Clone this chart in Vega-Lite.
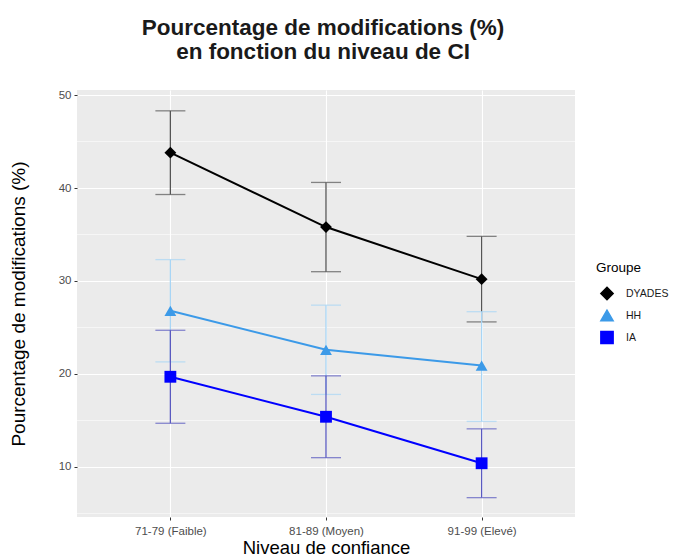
{
  "$schema": "https://vega.github.io/schema/vega-lite/v6.json",
  "width": 498,
  "height": 427,
  "autosize": {"type": "none"},
  "padding": {"left": 77, "top": 90, "right": 101, "bottom": 42},
  "background": "white",
  "view": {"fill": "#EBEBEB", "stroke": null},
  "config": {
    "font": "Liberation Sans",
    "axis": {
      "domain": false,
      "labelFont": "Liberation Sans",
      "labelFontSize": 11.5,
      "labelColor": "#4D4D4D",
      "tickColor": "#333333",
      "tickSize": 3,
      "titleFont": "Liberation Sans",
      "titleFontSize": 18.5,
      "titleFontWeight": "normal",
      "titleColor": "#000000",
      "gridColor": "#FFFFFF",
      "gridWidth": 1.1,
      "gridOpacity": 1
    }
  },
  "title": {
    "text": ["Pourcentage de modifications (%)", "\u00a0\u00a0\u00a0en fonction du niveau de CI"],
    "anchor": "middle",
    "fontSize": 22.5,
    "fontWeight": "bold",
    "font": "Liberation Sans",
    "color": "#1A1A1A",
    "lineHeight": 24,
    "offset": 26,
    "dx": -3
  },
  "datasets": {
    "stats": [
      {"niveau": "71-79 (Faible)", "groupe": "DYADES", "moy": 43.8, "low": 39.3, "high": 48.3},
      {"niveau": "81-89 (Moyen)", "groupe": "DYADES", "moy": 35.8, "low": 31.0, "high": 40.6},
      {"niveau": "91-99 (Elevé)", "groupe": "DYADES", "moy": 30.2, "low": 25.6, "high": 34.8},
      {"niveau": "71-79 (Faible)", "groupe": "HH", "moy": 26.8, "low": 21.3, "high": 32.3},
      {"niveau": "81-89 (Moyen)", "groupe": "HH", "moy": 22.6, "low": 17.8, "high": 27.4},
      {"niveau": "91-99 (Elevé)", "groupe": "HH", "moy": 20.9, "low": 14.9, "high": 26.7},
      {"niveau": "71-79 (Faible)", "groupe": "IA", "moy": 19.7, "low": 14.7, "high": 24.7},
      {"niveau": "81-89 (Moyen)", "groupe": "IA", "moy": 15.4, "low": 11.0, "high": 19.8},
      {"niveau": "91-99 (Elevé)", "groupe": "IA", "moy": 10.4, "low": 6.7, "high": 14.1}
    ],
    "minor": [{"v": 5}, {"v": 15}, {"v": 25}, {"v": 35}, {"v": 45}]
  },
  "layer": [
    {
      "data": {"name": "minor"},
      "mark": {"type": "rule", "color": "#FFFFFF", "strokeWidth": 0.55},
      "encoding": {
        "y": {
          "field": "v", "type": "quantitative",
          "scale": {"domain": [4.62, 50.54], "nice": false, "zero": false},
          "axis": {"title": "Pourcentage de modifications (%)", "values": [10, 20, 30, 40, 50], "grid": true, "labelPadding": 3, "titlePadding": 30, "titleFontSize": 19}
        }
      }
    },
    {
      "data": {"name": "stats"},
      "transform": [{"filter": "datum.groupe === 'DYADES'"}],
      "mark": {"type": "errorbar", "color": "#555555", "thickness": 1.3, "ticks": {"size": 30, "thickness": 1.3}, "rule": {"strokeWidth": 1.3}},
      "encoding": {
        "x": {
          "field": "niveau", "type": "ordinal",
          "sort": ["71-79 (Faible)", "81-89 (Moyen)", "91-99 (Elevé)"],
          "scale": {"type": "point", "padding": 0.6},
          "axis": {"title": "Niveau de confiance", "labelAngle": 0, "grid": true, "labelPadding": 5, "titlePadding": 2}
        },
        "y": {"field": "low", "type": "quantitative", "title": "Pourcentage de modifications (%)"},
        "y2": {"field": "high"}
      }
    },
    {
      "data": {"name": "stats"},
      "transform": [{"filter": "datum.groupe === 'HH'"}],
      "mark": {"type": "errorbar", "color": "#A8D5F5", "thickness": 1.3, "ticks": {"size": 30, "thickness": 1.3}, "rule": {"strokeWidth": 1.3}},
      "encoding": {
        "x": {"field": "niveau", "type": "ordinal", "sort": ["71-79 (Faible)", "81-89 (Moyen)", "91-99 (Elevé)"]},
        "y": {"field": "low", "type": "quantitative", "title": "Pourcentage de modifications (%)"},
        "y2": {"field": "high"}
      }
    },
    {
      "data": {"name": "stats"},
      "transform": [{"filter": "datum.groupe === 'IA'"}],
      "mark": {"type": "errorbar", "color": "#5A5AC0", "thickness": 1.3, "ticks": {"size": 30, "thickness": 1.3}, "rule": {"strokeWidth": 1.3}},
      "encoding": {
        "x": {"field": "niveau", "type": "ordinal", "sort": ["71-79 (Faible)", "81-89 (Moyen)", "91-99 (Elevé)"]},
        "y": {"field": "low", "type": "quantitative", "title": "Pourcentage de modifications (%)"},
        "y2": {"field": "high"}
      }
    },
    {
      "data": {"name": "stats"},
      "mark": {"type": "line", "strokeWidth": 2},
      "encoding": {
        "x": {"field": "niveau", "type": "ordinal", "sort": ["71-79 (Faible)", "81-89 (Moyen)", "91-99 (Elevé)"]},
        "y": {"field": "moy", "type": "quantitative", "title": "Pourcentage de modifications (%)"},
        "color": {
          "field": "groupe", "type": "nominal",
          "scale": {"domain": ["DYADES", "HH", "IA"], "range": ["#000000", "#3C9AE8", "#0000FF"]},
          "title": "Groupe"
        }
      }
    },
    {
      "data": {"name": "stats"},
      "mark": {"type": "point", "filled": true, "size": 140, "opacity": 1},
      "encoding": {
        "x": {"field": "niveau", "type": "ordinal", "sort": ["71-79 (Faible)", "81-89 (Moyen)", "91-99 (Elevé)"]},
        "y": {"field": "moy", "type": "quantitative", "title": "Pourcentage de modifications (%)"},
        "color": {
          "field": "groupe", "type": "nominal", "title": "Groupe",
          "legend": {
            "orient": "none",
            "legendX": 519,
            "legendY": 171,
            "titleFontSize": 13.5,
            "titleFontWeight": "normal",
            "titleColor": "#000000",
            "titleFont": "Liberation Sans",
            "labelFontSize": 10.5,
            "labelColor": "#1A1A1A",
            "labelFont": "Liberation Sans",
            "labelOffset": 12,
            "symbolSize": 150,
            "rowPadding": 3,
            "titlePadding": 12,
            "symbolOffset": 4
          }
        },
        "shape": {
          "field": "groupe", "type": "nominal", "title": "Groupe",
          "scale": {"domain": ["DYADES", "HH", "IA"], "range": ["diamond", "triangle-up", "square"]}
        }
      }
    }
  ]
}
